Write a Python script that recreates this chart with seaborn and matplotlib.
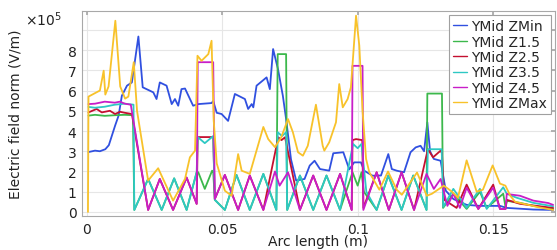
import numpy as np
import pandas as pd
import matplotlib
matplotlib.use("Agg")
import matplotlib.pyplot as plt
import seaborn as sns
from matplotlib.lines import Line2D

# ---------------- data (y in units of 1e5 V/m) ----------------
zmin_x = [0.0006, 0.003, 0.0048, 0.0068, 0.0081, 0.0104, 0.0117, 0.0129, 0.0148, 0.0166,
          0.019, 0.0206, 0.0245, 0.0257, 0.0269, 0.0294, 0.0313, 0.0325, 0.0337, 0.0349,
          0.0362, 0.0392, 0.0411, 0.046, 0.0466, 0.0479, 0.0497, 0.0521, 0.0546, 0.0583,
          0.0595, 0.0608, 0.0614, 0.0626, 0.0663, 0.0675, 0.0687, 0.0705, 0.0723, 0.0735,
          0.0753, 0.0772, 0.0803, 0.0822, 0.084, 0.086, 0.0894, 0.0909, 0.0946, 0.0968,
          0.0986, 0.1011, 0.1023, 0.1054, 0.1085, 0.1112, 0.1125, 0.1143, 0.117, 0.1194,
          0.1213, 0.1231, 0.1244, 0.1256, 0.1266, 0.128, 0.1305, 0.1324, 0.1352, 0.1401,
          0.145, 0.1524, 0.1549, 0.1647, 0.172]
zmin_y = [2.96, 3.03, 3.0, 3.1, 3.3, 4.26, 4.76, 5.74, 6.24, 6.4,
          8.67, 6.16, 5.91, 5.58, 6.4, 6.24, 5.33, 5.58, 5.25, 6.07,
          6.1, 5.25, 5.33, 5.38, 5.48, 4.9, 4.84, 4.5, 5.83, 5.58,
          5.09, 5.33, 5.17, 6.24, 6.65, 6.07, 8.05, 7.06, 5.74, 4.59,
          2.6, 1.55, 1.63, 2.29, 2.53, 2.12, 2.04, 2.9, 2.95, 2.1,
          2.45, 2.45, 2.04, 1.79, 1.8, 2.86, 2.12, 2.04, 1.96, 2.95,
          3.19, 3.27, 3.0, 4.43, 3.0, 2.62, 2.53, 1.05, 0.64, 0.35,
          0.3, 0.3, 0.2, 0.12, 0.1]

z15_x = [0.0006, 0.003, 0.0066, 0.0103, 0.014, 0.017, 0.0175, 0.0226, 0.0276, 0.0322,
         0.0368, 0.0405, 0.0411, 0.0435, 0.0462, 0.0466, 0.0472, 0.0509, 0.0552, 0.0601,
         0.0651, 0.0699, 0.0704, 0.0735, 0.0739, 0.0786, 0.0835, 0.0884, 0.0934, 0.098,
         0.0999, 0.1013, 0.1022, 0.1069, 0.1112, 0.1161, 0.1204, 0.1253, 0.1256, 0.131,
         0.1314, 0.1352, 0.1401, 0.145, 0.1475, 0.1536, 0.1545, 0.1549, 0.1598, 0.1647,
         0.172]
z15_y = [4.76, 4.8, 4.75, 4.78, 4.8, 4.78, 0.1, 1.63, 0.1, 1.66,
         0.1, 1.96, 1.96, 1.14, 2.04, 2.0, 0.6, 0.1, 1.83, 0.1,
         1.88, 0.1, 7.8, 7.8, 0.1, 1.8, 0.1, 1.8, 0.1, 1.96,
         1.3, 1.96, 1.0, 0.1, 1.8, 0.1, 1.8, 0.1, 5.85, 5.85,
         0.2, 0.9, 0.15, 1.0, 0.2, 0.9, 0.2, 0.55, 0.45, 0.3,
         0.15]

z25_x = [0.0006, 0.0036, 0.0055, 0.0085, 0.0104, 0.0122, 0.014, 0.0166, 0.0226, 0.0269,
         0.0318, 0.0368, 0.0405, 0.0409, 0.0466, 0.0472, 0.0509, 0.0558, 0.0601, 0.0651,
         0.0706, 0.0718, 0.0731, 0.0786, 0.0835, 0.0884, 0.0934, 0.0977, 0.098, 0.0993,
         0.1016, 0.102, 0.1069, 0.1114, 0.1161, 0.1207, 0.1258, 0.1277, 0.1305, 0.131,
         0.1318, 0.1364, 0.1401, 0.1444, 0.1499, 0.1524, 0.1544, 0.1549, 0.1598, 0.172]
z25_y = [4.92, 5.09, 4.92, 5.0, 4.84, 4.95, 4.9, 4.84, 0.1, 1.63,
         0.1, 1.7, 0.4, 3.7, 3.7, 0.64, 1.83, 0.1, 1.8, 0.1,
         3.69, 3.55, 3.69, 0.1, 1.8, 0.1, 1.88, 0.1, 3.55, 3.6,
         3.55, 0.2, 1.96, 0.1, 1.96, 0.1, 3.1, 2.7, 3.03, 2.9,
         0.6, 0.2, 1.35, 0.15, 1.35, 0.15, 0.15, 0.6, 0.4, 0.2]

z35_x = [0.0006, 0.003, 0.0066, 0.0103, 0.014, 0.0172, 0.0175, 0.0226, 0.0276, 0.0322,
         0.0368, 0.0405, 0.0409, 0.0435, 0.0466, 0.0472, 0.0509, 0.0552, 0.0601, 0.0651,
         0.0699, 0.0704, 0.072, 0.0735, 0.0739, 0.0786, 0.0835, 0.0884, 0.0934, 0.0982,
         0.0999, 0.1013, 0.1031, 0.1069, 0.1112, 0.1161, 0.1204, 0.1253, 0.1258, 0.1309,
         0.1315, 0.1352, 0.1401, 0.145, 0.1475, 0.1536, 0.1549, 0.1586, 0.1647, 0.172]
z35_y = [5.19, 5.15, 5.2, 5.3, 5.35, 5.3, 0.1, 1.63, 0.1, 1.66,
         0.1, 1.96, 3.7, 3.4, 3.75, 0.6, 0.1, 1.83, 0.1, 1.88,
         0.1, 3.94, 3.75, 3.94, 0.1, 1.8, 0.1, 1.8, 0.1, 3.36,
         3.15, 3.36, 1.0, 0.1, 1.8, 0.1, 1.8, 0.1, 3.1, 3.1,
         0.25, 1.14, 0.2, 1.14, 0.15, 1.22, 0.9, 0.7, 0.45, 0.28]

z45_x = [0.0006, 0.003, 0.0066, 0.0103, 0.0122, 0.014, 0.0162, 0.0226, 0.0269, 0.0318,
         0.0368, 0.0405, 0.0409, 0.0466, 0.0472, 0.0509, 0.0558, 0.0601, 0.0651, 0.0694,
         0.0711, 0.0742, 0.0786, 0.0835, 0.0884, 0.0934, 0.0977, 0.098, 0.1017, 0.102,
         0.1069, 0.1114, 0.1161, 0.1207, 0.1253, 0.128, 0.1305, 0.133, 0.1352, 0.1376,
         0.1401, 0.1444, 0.1499, 0.1524, 0.1545, 0.1549, 0.1598, 0.1647, 0.1702, 0.172]
z45_y = [5.33, 5.35, 5.45, 5.4, 5.45, 5.35, 5.3, 0.1, 1.63, 0.1,
         1.7, 0.4, 7.4, 7.4, 0.64, 1.83, 0.1, 1.8, 0.1, 2.0,
         1.3, 1.96, 0.1, 1.8, 0.1, 1.88, 0.1, 7.22, 7.22, 0.1,
         1.96, 0.1, 1.96, 0.1, 1.88, 1.14, 1.63, 0.3, 0.9, 0.2,
         1.2, 0.15, 1.2, 0.15, 0.15, 0.89, 0.8, 0.56, 0.44, 0.35]

zmax_x = [0.0004, 0.0006, 0.0048, 0.0062, 0.0068, 0.008, 0.0105, 0.0123, 0.0141, 0.0153,
          0.0173, 0.0185, 0.0226, 0.0263, 0.0318, 0.0362, 0.038, 0.0399, 0.0408, 0.0423,
          0.0448, 0.046, 0.0468, 0.0479, 0.0509, 0.0534, 0.0558, 0.0571, 0.0601, 0.0651,
          0.0669, 0.0694, 0.0717, 0.0742, 0.076, 0.0779, 0.0797, 0.0815, 0.0845, 0.087,
          0.0876, 0.0894, 0.0919, 0.0931, 0.0944, 0.0962, 0.0974, 0.0993, 0.1005, 0.1017,
          0.103, 0.1042, 0.1079, 0.1111, 0.1143, 0.1162, 0.1218, 0.1254, 0.1273, 0.1317,
          0.1347, 0.1369, 0.1401, 0.1438, 0.1461, 0.1497, 0.1524, 0.1544, 0.1562, 0.158,
          0.1667, 0.172]
zmax_y = [0.0, 5.7, 6.0, 6.98, 5.8, 6.2, 9.45, 6.2, 5.6, 5.7,
          7.4, 5.0, 1.55, 2.16, 0.56, 1.63, 2.7, 3.03, 7.72, 7.47,
          7.8, 8.46, 4.5, 2.4, 1.05, 0.8, 2.86, 2.04, 1.88, 4.2,
          3.6, 3.2, 3.69, 4.59, 3.94, 2.95, 2.78, 3.27, 5.3, 3.27,
          3.03, 3.44, 4.43, 6.32, 5.17, 5.58, 6.16, 9.7, 8.22, 5.0,
          2.62, 1.96, 1.1, 2.0, 1.1, 0.85, 1.95, 0.8, 0.9, 1.3,
          1.0, 0.7, 2.55, 1.0, 1.1, 2.3, 1.4, 1.3, 0.8, 0.5,
          0.23, 0.1]

labels = ["YMid ZMin", "YMid Z1.5", "YMid Z2.5", "YMid Z3.5", "YMid Z4.5", "YMid ZMax"]
colors = ["#3050e0", "#3cb84c", "#c41030", "#2ec8c4", "#c81ec8", "#f8c22a"]
series = [(zmin_x, zmin_y), (z15_x, z15_y), (z25_x, z25_y),
          (z35_x, z35_y), (z45_x, z45_y), (zmax_x, zmax_y)]

frames = []
for lab, (xs, ys) in zip(labels, series):
    frames.append(pd.DataFrame({"arc": xs, "E": np.array(ys) * 1e5, "series": lab}))
df = pd.concat(frames, ignore_index=True)

# ---------------- figure ----------------
sns.set_theme(style="white")
plt.rcParams["font.family"] = ["DejaVu Sans"]

fig = plt.figure(figsize=(5.57, 2.51), dpi=100)
ax = fig.add_axes([82 / 557, 1 - 217 / 251, (555 - 82) / 557, (217 - 12) / 251])

sns.lineplot(data=df, x="arc", y="E", hue="series", hue_order=labels,
             palette=colors, sort=False, estimator=None, linewidth=1.3,
             legend=False, ax=ax)

ax.set_xlim(-0.0018, 0.1727)
ax.set_ylim(-0.2e5, 9.93e5)
ax.set_xticks([0, 0.05, 0.1, 0.15])
ax.set_xticklabels(["0", "0.05", "0.1", "0.15"])
ax.set_yticks([i * 1e5 for i in range(10)])
ax.set_yticklabels([str(i) for i in range(9)] + [""])

ax.grid(True, color="#e6e6e6", linewidth=0.8)
ax.set_axisbelow(True)
for sp in ax.spines.values():
    sp.set_color("#a8a8a8")
    sp.set_linewidth(0.8)
ax.tick_params(direction="in", length=3, color="#a8a8a8", labelsize=10,
               top=True, right=True, labelcolor="#222222", pad=4)

ax.set_xlabel("Arc length (m)", fontsize=10, color="#222222")
ax.set_ylabel("Electric field norm (V/m)", fontsize=10, color="#222222")
ax.xaxis.set_label_coords(0.5, -0.09)
ax.yaxis.set_label_coords(-0.125, 0.5)

fig.text(25 / 557, 1 - 20 / 251, r"$\times10^5$", fontsize=10, va="center",
         ha="left", color="#222222")

handles = [Line2D([0], [0], color=c, lw=1.0) for c in colors]
leg = ax.legend(handles, labels, loc="upper right", fontsize=10, frameon=True,
                fancybox=False, edgecolor="#a0a0a0", framealpha=1,
                handlelength=1.0, handletextpad=0.3, labelspacing=0.1,
                borderpad=0.3, borderaxespad=0.3)
leg.get_frame().set_linewidth(0.8)

fig.savefig("out.png", dpi=100)
